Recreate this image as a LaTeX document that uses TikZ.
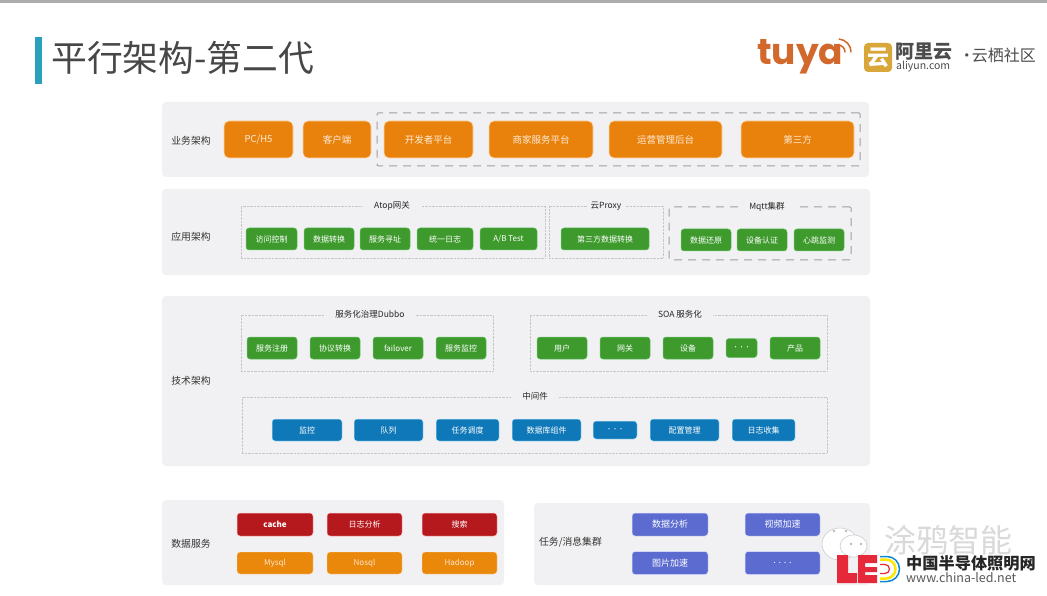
\documentclass[tikz,border=0pt]{standalone}
\usepackage{fontspec}
\usepackage{tikz}
\setmainfont{Noto Sans CJK SC}
\newfontfamily\logofont{Poppins}
\definecolor{bandgray}{HTML}{F1F1F3}
\definecolor{orangefill}{HTML}{E8820C}
\definecolor{greenfill}{HTML}{3F9A2E}
\definecolor{bluefill}{HTML}{0F78B8}
\definecolor{redfill}{HTML}{B5191E}
\definecolor{purplefill}{HTML}{5B6BD0}
\definecolor{tuyaorange}{HTML}{D2682B}
\definecolor{aligold}{HTML}{D9A63A}
\definecolor{ledred}{HTML}{E5283A}
\definecolor{headbar}{HTML}{2BA0BC}
\tikzset{
  band/.style={draw=none,fill=bandgray,rounded corners=4pt,inner sep=0pt},
  colorbox/.style={rounded corners=3pt,inner sep=0pt,text=white,font=\fontsize{8}{8}\selectfont,minimum height=22pt},
  orangebox/.style={colorbox,fill=orangefill,draw=orange!35,line width=.6pt,rounded corners=5pt,minimum height=37pt,text=orange!15,font=\fontsize{9.5}{9.5}\selectfont},
  paleorange/.style={colorbox,fill=orangefill!95!yellow,draw=orange!25,line width=.4pt,text=orange!20,minimum height=22pt},
  greenbox/.style={colorbox,fill=greenfill,draw=green!60!black!60,line width=.5pt,minimum width=50pt},
  bluebox/.style={colorbox,fill=bluefill,draw=cyan!25,line width=.5pt},
  redbox/.style={colorbox,fill=redfill,draw=red!25,line width=.5pt,minimum height=23pt},
  purplebox/.style={colorbox,fill=purplefill,draw=blue!12,line width=.5pt,minimum height=23pt,font=\fontsize{9}{9}\selectfont},
  dotbox/.style={draw=gray!45,densely dotted,line width=.4pt,inner sep=0pt},
  dashbox/.style={draw=gray!75,dash pattern=on 8pt off 6pt,line width=1pt,rounded corners=1pt,inner sep=0pt},
  grouptitle/.style={fill=bandgray,inner ysep=3pt,inner xsep=11pt,text=black!85,font=\fontsize{8.5}{8.5}\selectfont},
  rowlabel/.style={text=black!80,inner sep=0pt,font=\fontsize{9.8}{9.8}\selectfont},
  dotstext/.style={font=\fontsize{6}{6}\selectfont}
}
\begin{document}
\begin{tikzpicture}[x=1pt,y=-1pt]
\useasboundingbox (0,0) rectangle (1047,596);
\fill[white] (0,0) rectangle (1047,596);
\fill[gray!65] (0,0) rectangle (1047,3);
% heading
\fill[headbar] (35,37) rectangle (42,84);
\node[anchor=west,inner sep=0pt,text=black!72,font=\fontsize{35.8}{35.8}\selectfont] (heading) at (51,58) {平行架构-第二代};
% logos
\node[anchor=base west,inner sep=0pt,text=tuyaorange,font=\logofont\bfseries\fontsize{36}{36}\selectfont] (tuya) at (757,65) {tuya};
\coordinate (wave) at (838,52);
\draw[tuyaorange,line width=1.5pt,line cap=round] ([shift={(7pt,0pt)}]wave) arc[start angle=0,end angle=85,radius=7pt];
\draw[tuyaorange,line width=1.5pt,line cap=round] ([shift={(13pt,0pt)}]wave) arc[start angle=0,end angle=85,radius=13pt];
\node[fill=aligold,rounded corners=4pt,minimum width=28pt,minimum height=29pt,inner sep=0pt,text=white,font=\bfseries\fontsize{22}{22}\selectfont] (aliicon) at (878,57.5) {云};
\node[anchor=west,inner sep=0pt,text=black!70,font=\bfseries\fontsize{19}{19}\selectfont] (aliname) at (895,52) {阿里云};
\node[anchor=west,inner sep=0pt,text=black!70,font=\fontsize{10.5}{10.5}\selectfont] (aliweb) at (896,67) {aliyun.com};
\node[anchor=east,inner sep=0pt,text=black!70,font=\fontsize{16}{16}\selectfont] (alicom) at (1036,55) {·\hspace{-3pt}云栖社区};
% bands
\node[band,minimum width=707pt,minimum height=75pt] (bizband) at (515.5,139.5) {};
\node[band,minimum width=708pt,minimum height=86pt] (appband) at (516,232) {};
\node[band,minimum width=708pt,minimum height=170pt] (techband) at (516,381) {};
\node[band,minimum width=342pt,minimum height=85pt] (databand) at (333,542.5) {};
\node[band,minimum width=336pt,minimum height=82pt] (taskband) at (702,544) {};
% row labels
\node[rowlabel] (bizlabel) at (191,141) {业务架构};
\node[rowlabel] (applabel) at (191,237) {应用架构};
\node[rowlabel] (techlabel) at (191,381) {技术架构};
\node[rowlabel] (datalabel) at (191,544) {数据服务};
\node[rowlabel] (tasklabel) at (570.5,542) {任务/消息集群};
% group frames
\node[dashbox,minimum width=483pt,minimum height=53pt] (platform) at (618.5,139.5) {};
\node[dotbox,minimum width=304pt,minimum height=52pt] (atop) at (393,232) {};
\node[dotbox,minimum width=114pt,minimum height=52pt] (proxy) at (606,232) {};
\node[dashbox,minimum width=182pt,minimum height=53pt] (mqtt) at (760,233.5) {};
\node[dotbox,minimum width=252pt,minimum height=56pt] (dubbo) at (367,343) {};
\node[dotbox,minimum width=297pt,minimum height=56pt] (soa) at (678.5,343) {};
\node[dotbox,minimum width=585pt,minimum height=56pt] (middle) at (534.5,425) {};
\node[grouptitle] (atoptitle) at (392,206) {Atop网关};
\node[grouptitle,inner xsep=4pt] (proxytitle) at (606,206) {云Proxy};
\node[grouptitle] (mqtttitle) at (767,207) {Mqtt集群};
\node[grouptitle] (dubbotitle) at (370,314.5) {服务化治理Dubbo};
\node[grouptitle] (soatitle) at (680,314) {SOA 服务化};
\node[grouptitle] (middletitle) at (535,396) {中间件};
% business row
\node[orangebox,minimum width=69pt] (pc) at (258.5,139.5) {PC/H5};
\node[orangebox,minimum width=68pt] (client) at (337,139.5) {客户端};
\node[orangebox,minimum width=89pt] (dev) at (428.5,139.5) {开发者平台};
\node[orangebox,minimum width=104pt] (shop) at (541,139.5) {商家服务平台};
\node[orangebox,minimum width=113pt] (ops) at (665.5,139.5) {运营管理后台};
\node[orangebox,minimum width=113pt] (third) at (797.5,139.5) {第三方};
% application row
\node[greenbox,minimum width=51pt] (access) at (271.5,239) {访问控制};
\node[greenbox] (convert) at (329,239) {数据转换};
\node[greenbox] (addr) at (385,239) {服务寻址};
\node[greenbox,minimum width=56pt] (logs) at (445,239) {统一日志};
\node[greenbox,minimum width=57pt] (abtest) at (508.5,239) {A/B Test};
\node[greenbox,minimum width=88pt] (thirdconv) at (605,239) {第三方数据转换};
\node[greenbox] (restore) at (706,240) {数据还原};
\node[greenbox] (auth) at (762,240) {设备认证};
\node[greenbox] (beat) at (819,240) {心跳监测};
% tech row
\node[greenbox] (register) at (272,348) {服务注册};
\node[greenbox] (protocol) at (335,348) {协议转换};
\node[greenbox] (failover) at (398,348) {failover};
\node[greenbox] (monitor) at (461,348) {服务监控};
\node[greenbox] (user) at (562,348) {用户};
\node[greenbox] (gateway) at (625,348) {网关};
\node[greenbox] (device) at (688,348) {设备};
\node[greenbox,dotstext,minimum width=31pt,minimum height=19pt] (soadots) at (741.5,348) {\raisebox{-1.5pt}{···}};
\node[greenbox] (product) at (795,348) {产品};
\node[bluebox,minimum width=70pt] (watch) at (307,430) {监控};
\node[bluebox,minimum width=69pt] (queue) at (388.5,430) {队列};
\node[bluebox,minimum width=63pt] (sched) at (467.5,430) {任务调度};
\node[bluebox,minimum width=69pt] (dbpart) at (546.5,430) {数据库组件};
\node[bluebox,dotstext,minimum width=44pt,minimum height=18pt] (middots) at (615,430) {\raisebox{-1.5pt}{···}};
\node[bluebox,minimum width=69pt] (config) at (684.5,430) {配置管理};
\node[bluebox,minimum width=63pt] (collect) at (763.5,430) {日志收集};
% data row
\node[redbox,minimum width=76pt,font=\bfseries\fontsize{8}{8}\selectfont] (cache) at (275,524.5) {cache};
\node[redbox,minimum width=75pt] (loga) at (364.5,524.5) {日志分析};
\node[redbox,minimum width=75pt] (search) at (459.5,524.5) {搜索};
\node[paleorange,minimum width=76pt] (mysql) at (275,563) {Mysql};
\node[paleorange,minimum width=75pt] (nosql) at (364.5,563) {Nosql};
\node[paleorange,minimum width=75pt] (hadoop) at (459.5,563) {Hadoop};
% task row
\node[purplebox,minimum width=76pt] (dataa) at (670,524.5) {数据分析};
\node[purplebox,minimum width=75pt] (video) at (782.5,524.5) {视频加速};
\node[purplebox,minimum width=76pt] (image) at (670,563) {图片加速};
\node[purplebox,minimum width=75pt] (taskdots) at (782.5,563) {. . . .};
% watermark
\draw[gray!40,fill=white,line width=.6pt] (840,544) ellipse [x radius=18,y radius=16];
\draw[gray!40,fill=white,line width=.6pt] (853.5,546) ellipse [x radius=13.5,y radius=11];
\fill[gray!55] (834,531) circle (1.3) (846,531) circle (1.3) (851,544) circle (1.3) (861,544) circle (1.3);
\node[inner sep=0pt,text=gray!30,font=\fontsize{32}{32}\selectfont] (wmark) at (948,540) {涂鸦智能};
\fill[ledred] (837,555) rectangle (848,583) (837,573) rectangle (857,583);
\fill[ledred] (858,555) rectangle (865,583) (858,555) rectangle (877,563) (858,567) rectangle (877,572) (858,575) rectangle (877,583);
\draw[cyan!70!blue,line width=1.5pt] (880,556.5) -- (887,556.5) arc[start angle=90,end angle=-90,radius=12.5pt] -- (880,581.5);
\draw[yellow!90!orange,line width=2.5pt] (880,559.5) -- (886,559.5) arc[start angle=90,end angle=-90,radius=9.5pt] -- (880,578.5);
\draw[ledred,line width=1.2pt] (880,564.5) -- (885,564.5) arc[start angle=90,end angle=-90,radius=4.5pt] -- (880,573.5);
\node[anchor=west,inner sep=0pt,text=black!85,font=\bfseries\fontsize{16.2}{16.2}\selectfont] (ledcn) at (906,563) {中国半导体照明网};
\node[anchor=west,inner sep=0pt,text=black!65,font=\fontsize{12.5}{12.5}\selectfont] (ledweb) at (906,578) {www.china-led.net};
\end{tikzpicture}
\end{document}
